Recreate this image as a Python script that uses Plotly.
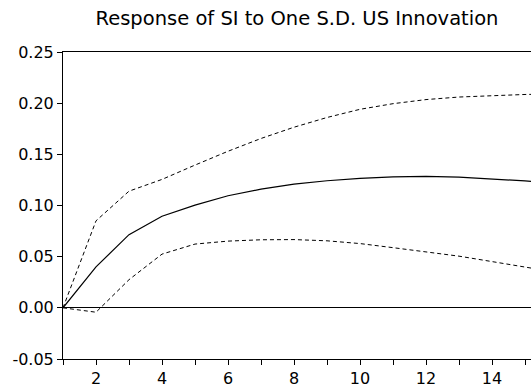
import plotly.graph_objects as go

periods = list(range(1, 17))
response = [0.0, 0.040, 0.0715, 0.0895, 0.1003, 0.1095, 0.1160, 0.1208, 0.1242, 0.1265, 0.1280, 0.1285, 0.1278, 0.1262, 0.1240, 0.1218]
upper = [0.0, 0.0850, 0.1140, 0.1255, 0.1395, 0.1530, 0.1655, 0.1765, 0.1860, 0.1940, 0.1995, 0.2035, 0.2060, 0.2075, 0.2085, 0.2090]
lower = [0.0, -0.0043, 0.0275, 0.0525, 0.0623, 0.0652, 0.0665, 0.0667, 0.0655, 0.0628, 0.0588, 0.0550, 0.0505, 0.0452, 0.0400, 0.0345]
x_tickvals = list(range(1, 17))
x_ticktext = [str(v) if v % 2 == 0 else "" for v in x_tickvals]
y_tickvals = [-0.05, 0.0, 0.05, 0.10, 0.15, 0.20, 0.25]
y_ticktext = ["-0.05", "0.00", "0.05", "0.10", "0.15", "0.20", "0.25"]

W, H = 531, 390

fig = go.Figure()
fig.add_trace(go.Scatter(x=periods, y=upper, mode="lines",
                         line=dict(color="black", width=1, dash="4px,3px"), showlegend=False,
                         hoverinfo="skip"))
fig.add_trace(go.Scatter(x=periods, y=response, mode="lines",
                         line=dict(color="black", width=1.2), showlegend=False,
                         hoverinfo="skip"))
fig.add_trace(go.Scatter(x=periods, y=lower, mode="lines",
                         line=dict(color="black", width=1, dash="4px,3px"), showlegend=False,
                         hoverinfo="skip"))

fig.update_layout(
    width=W, height=H,
    margin=dict(l=63, r=0, t=52, b=31),
    paper_bgcolor="white", plot_bgcolor="white",
    font=dict(family="DejaVu Sans", size=16, color="black"),
    title=dict(text="Response of SI to One S.D. US Innovation",
               x=(63 + W) / 2 / W, xanchor="center", y=1 - 18 / H, yanchor="middle",
               font=dict(family="DejaVu Sans", size=19.5, color="black")),
    xaxis=dict(range=[1, 1 + 468 / 33], tickmode="array", tickvals=x_tickvals, ticktext=x_ticktext,
               ticks="outside", ticklen=5, tickcolor="black", showgrid=False, zeroline=False,
               showline=True, linecolor="black", linewidth=1, mirror=True,
               tickfont=dict(family="DejaVu Sans", size=16)),
    yaxis=dict(range=[-0.05, 0.25], tickmode="array", tickvals=y_tickvals, ticktext=y_ticktext,
               ticks="outside", ticklen=5, tickcolor="black", showgrid=False,
               zeroline=True, zerolinecolor="black", zerolinewidth=1,
               showline=True, linecolor="black", linewidth=1, mirror=False,
               tickfont=dict(family="DejaVu Sans", size=16)),
)

fig.write_html("out.html", config={"displayModeBar": False},
               post_script="document.body.style.margin='0';document.body.style.overflow='hidden';")
